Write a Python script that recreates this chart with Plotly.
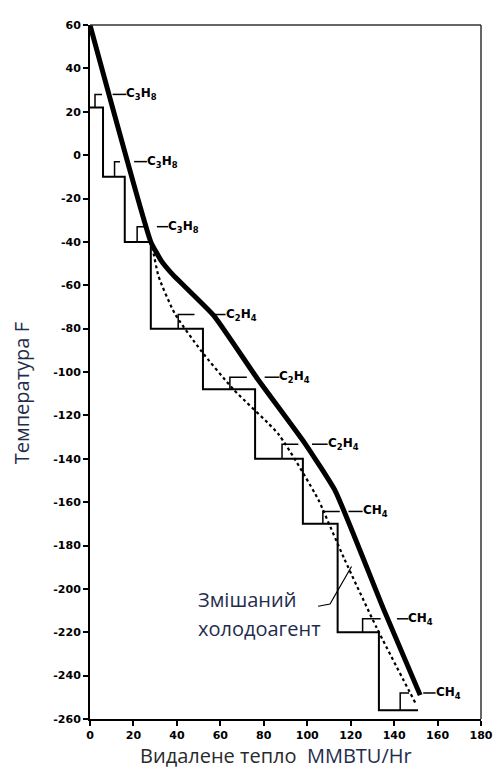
import plotly.graph_objects as go

# Composite cooling curve (thick)
cool_x = [0, 28, 33, 38, 57, 77, 99, 113, 135, 152]
cool_y = [60, -40, -49, -55, -74, -103, -133, -155, -209, -249]

# Mixed refrigerant curve (dotted)
mix_x = [28, 29, 31.6, 39, 51, 66, 87, 105, 107, 117, 132, 150]
mix_y = [-40, -44, -56, -73, -90, -108, -129, -158.6, -163, -186, -218, -253]

# Cascade refrigerant staircase (thin)
step_x = [0, 6, 16, 28, 52, 76, 98, 114, 133, 151]
step_y = [22, -10, -40, -80, -108, -140, -170, -220, -256, -256]

# Refrigerant stage labels
stage_labels = ["C<sub>3</sub>H<sub>8</sub>"] * 3 + ["C<sub>2</sub>H<sub>4</sub>"] * 3 + ["CH<sub>4</sub>"] * 3
stage_level = [22, -10, -40, -80, -108, -140, -170, -220, -256]
stage_top = [28, -3, -33, -73.5, -102.4, -133.3, -164.3, -213.8, -248]
bracket_x0 = [2.3, 11.3, 21.7, 40.6, 64.4, 88.4, 107.2, 125.5, 142.8]
bracket_x1 = [5.5, 13.8, 25.0, 48.1, 72.2, 95.9, 115.0, 133.8, 146.9]
leader_x0 = [10.4, 20.3, 30.8, 55.6, 80.4, 102.2, 119.0, 141.3, 153.4]
leader_x1 = [16.7, 26.2, 36.0, 62.4, 87.2, 109.4, 125.5, 146.6, 159.1]

# Pointer to the mixed refrigerant curve
ptr_x = [105, 110.5, 120.4]
ptr_y = [-208, -207, -189.7]

y_ticks = list(range(-260, 61, 20))
y_text = [str(v) for v in y_ticks]
x_ticks = list(range(0, 181, 20))
x_text = [str(v) for v in x_ticks]

fig = go.Figure()

fig.add_trace(go.Scatter(x=step_x, y=step_y, mode="lines", line=dict(color="black", width=2, shape="hv"),
                         hoverinfo="skip"))
fig.add_trace(go.Scatter(x=mix_x, y=mix_y, mode="lines", line=dict(color="black", width=2.2, dash="dot", shape="spline", smoothing=0.6),
                         hoverinfo="skip"))
fig.add_trace(go.Scatter(x=cool_x, y=cool_y, mode="lines", line=dict(color="black", width=5, shape="spline", smoothing=0.4),
                         hoverinfo="skip"))

# brackets and leaders
for i in range(len(stage_labels)):
    fig.add_trace(go.Scatter(x=[bracket_x0[i], bracket_x0[i], bracket_x1[i]],
                             y=[stage_level[i], stage_top[i], stage_top[i]],
                             mode="lines", line=dict(color="black", width=1.5), hoverinfo="skip"))
    fig.add_trace(go.Scatter(x=[leader_x0[i], leader_x1[i]], y=[stage_top[i], stage_top[i]],
                             mode="lines", line=dict(color="black", width=1.5), hoverinfo="skip"))
    fig.add_annotation(x=leader_x1[i], y=stage_top[i], text=stage_labels[i], showarrow=False,
                       xanchor="left", yanchor="middle", xshift=-2,
                       font=dict(family="DejaVu Sans", size=12, color="black", weight="bold"))

fig.add_trace(go.Scatter(x=ptr_x, y=ptr_y, mode="lines", line=dict(color="black", width=1.2),
                         hoverinfo="skip"))

# plot area in page pixels: left 90, right 489, top 19, bottom 719 (page has 8px body margin)
title_color = "#1f2d4d"
fig.add_annotation(xref="paper", yref="paper", x=(198 - 90) / 399, y=(719 - 598) / 700,
                   text="Змішаний", showarrow=False, xanchor="left", yanchor="middle",
                   font=dict(family="Open Sans", size=20, color=title_color))
fig.add_annotation(xref="paper", yref="paper", x=(198 - 90) / 399, y=(719 - 628) / 700,
                   text="холодоагент", showarrow=False, xanchor="left", yanchor="middle",
                   font=dict(family="Open Sans", size=20, color=title_color))

fig.add_annotation(xref="paper", yref="paper", x=(280 - 90) / 399, y=(719 - 756) / 700,
                   text="<span style='color:#2a2a2a'>Видалене тепло</span>  MMBTU/Hr",
                   showarrow=False, xanchor="center", yanchor="middle",
                   font=dict(family="Open Sans", size=20, color=title_color))
fig.add_annotation(xref="paper", yref="paper", x=(20 - 90) / 399, y=(719 - 390) / 700,
                   text="Температура F", textangle=-90,
                   showarrow=False, xanchor="center", yanchor="middle",
                   font=dict(family="Open Sans", size=20, color=title_color))

# top and right frame lines
fig.add_shape(type="line", xref="paper", yref="paper", x0=0, x1=1, y0=1, y1=1,
              line=dict(color="#333", width=1.5))
fig.add_shape(type="line", xref="paper", yref="paper", x0=1, x1=1, y0=0, y1=1,
              line=dict(color="#333", width=1.5))

tick_font = dict(family="DejaVu Sans", size=11, color="black", weight="bold")
fig.update_layout(
    width=496, height=761,
    margin=dict(l=82, r=15, t=11, b=50),
    paper_bgcolor="white", plot_bgcolor="white",
    showlegend=False,
    xaxis=dict(range=[0, 180], tickvals=x_ticks, ticktext=x_text, showgrid=False, zeroline=False,
               showline=True, linecolor="black", linewidth=2, ticks="outside", ticklen=5,
               tickwidth=1.5, tickcolor="black", tickfont=tick_font),
    yaxis=dict(range=[-260, 60], tickvals=y_ticks, ticktext=y_text, showgrid=False, zeroline=False,
               showline=True, linecolor="black", linewidth=2, ticks="outside", ticklen=5,
               tickwidth=1.5, tickcolor="black", tickfont=tick_font),
)

fig.write_html("out.html")
